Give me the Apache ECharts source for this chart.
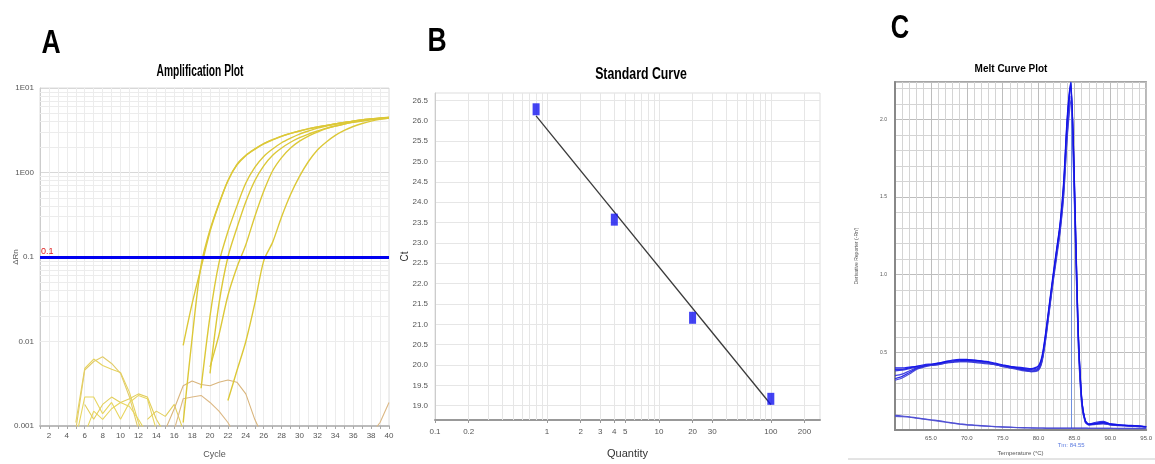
<!DOCTYPE html>
<html><head><meta charset="utf-8">
<script src="https://cdn.jsdelivr.net/npm/echarts@6/dist/echarts.min.js"></script>
<style>html,body{margin:0;padding:0;background:#fff}#c{width:1155px;height:464px}</style>
</head><body><div id="c"></div><script>
// ---------- Panel A: Amplification Plot ----------
const ampYTicks = [0.001, 0.01, 0.1, 1, 10];
const ampYTickLabels = ['0.001', '0.01', '0.1', '1E00', '1E01'];
const ampYMinorGrid = [0.002,0.003,0.004,0.005,0.006,0.007,0.008,0.009,0.02,0.03,0.04,0.05,0.06,0.07,0.08,0.09,0.2,0.3,0.4,0.5,0.6,0.7,0.8,0.9,2,3,4,5,6,7,8,9];
const threshold = 0.1;
// amplification curves: start cycle + values per cycle
const amp1Start = 17, amp1 = [0.009,0.028,0.075,0.2,0.42,0.8,1.25,1.6,1.9,2.2,2.45,2.7,2.9,3.1,3.3,3.45,3.6,3.75,3.9,4.05,4.2,4.3,4.4,4.5];
const amp1bStart = 17, amp1b = [0.0011,0.011,0.08,0.21,0.43,0.8,1.22,1.58,1.88,2.18,2.43,2.68,2.9,3.1,3.28,3.45,3.6,3.75,3.9,4.05,4.18,4.3,4.4,4.48];
const amp2Start = 19, amp2 = [0.0028,0.02,0.085,0.2,0.4,0.75,1.15,1.55,1.9,2.25,2.55,2.85,3.1,3.35,3.55,3.75,3.9,4.05,4.2,4.3,4.4,4.45];
const amp2bStart = 20, amp2b = [0.0042,0.028,0.1,0.22,0.45,0.8,1.2,1.6,1.95,2.28,2.58,2.85,3.1,3.35,3.55,3.75,3.92,4.07,4.2,4.32,4.42];
const amp3Start = 20, amp3 = [0.005,0.012,0.035,0.075,0.14,0.3,0.6,1.05,1.5,1.95,2.35,2.7,3.0,3.3,3.55,3.75,3.95,4.1,4.25,4.35,4.45];
const amp4Start = 22, amp4 = [0.002,0.0045,0.01,0.028,0.09,0.15,0.3,0.55,0.9,1.35,1.85,2.3,2.75,3.15,3.5,3.8,4.05,4.25,4.4];
// background noise curves
const noise1Start = 5, noise1 = [0.0011,0.0048,0.0062,0.0052,0.0047,0.0043,0.0025,0.0011,0.0006];
const noise2Start = 5, noise2 = [0.0009,0.0046,0.0058,0.0066,0.0055,0.0042,0.0022,0.0009];
const noise3Start = 5, noise3 = [0.0007,0.0022,0.0022,0.0014,0.0019,0.0012,0.0019,0.0023,0.0021,0.0009];
const noise4Start = 6, noise4 = [0.0008,0.0015,0.0012,0.0016,0.0019,0.0017,0.0012,0.0008];
const noise5Start = 6, noise5 = [0.0018,0.0012,0.0018,0.0022,0.0019,0.0021,0.0024,0.0022,0.0012,0.0008];
const noise6Start = 13, noise6 = [0.0012,0.0015,0.0013,0.0018,0.0009];
const noise7Start = 15, noise7 = [0.0009,0.0016,0.003,0.0034,0.0031,0.003,0.0033,0.0035,0.0033,0.0024,0.0012,0.0007];
const noise8Start = 16, noise8 = [0.0009,0.0021,0.0022,0.0023,0.0019,0.0015,0.0011,0.0007];
const noise9Start = 38, noise9 = [0.0008,0.0011,0.0019];

// ---------- Panel B: Standard Curve ----------
const stdQuantity = [0.8, 4, 20, 100];
const stdCt = [26.28, 23.57, 21.16, 19.17];
const fitQuantity = [0.8, 100];
const fitCt = [26.12, 19.03];
const stdXTicks = [0.1, 0.2, 1, 2, 3, 4, 5, 10, 20, 30, 100, 200];
const stdXGrid = [0.2,0.3,0.4,0.5,0.6,0.7,0.8,0.9,1,2,3,4,5,6,7,8,9,10,20,30,40,50,60,70,80,90,100,200];
const stdYTicks = [19.0,19.5,20.0,20.5,21.0,21.5,22.0,22.5,23.0,23.5,24.0,24.5,25.0,25.5,26.0,26.5];

// ---------- Panel C: Melt Curve Plot ----------
const meltTemp = [60,61,62,63,64,65,66,67,68,69,70,71,72,73,74,75,76,77,78,79,80,80.5,81,81.5,82,82.5,83,83.5,84,84.5,85,85.5,86,86.5,87,88,89,90,91,92,93,94,95];
const melt1 = [0.39,0.39,0.40,0.41,0.415,0.42,0.425,0.435,0.44,0.445,0.445,0.44,0.44,0.435,0.425,0.415,0.41,0.40,0.395,0.39,0.41,0.47,0.62,0.80,0.98,1.15,1.32,1.58,2.00,2.23,1.55,0.66,0.20,0.06,0.035,0.04,0.045,0.035,0.03,0.03,0.025,0.025,0.02];
const melt2 = [0.38,0.385,0.395,0.405,0.41,0.42,0.43,0.44,0.445,0.45,0.45,0.445,0.44,0.43,0.42,0.41,0.405,0.40,0.39,0.385,0.40,0.46,0.60,0.78,0.96,1.13,1.30,1.55,1.95,2.20,1.62,0.70,0.22,0.065,0.04,0.045,0.05,0.04,0.035,0.03,0.03,0.025,0.022];
const melt3 = [0.35,0.36,0.38,0.40,0.41,0.415,0.42,0.43,0.435,0.44,0.44,0.435,0.43,0.425,0.42,0.41,0.40,0.395,0.385,0.38,0.395,0.45,0.59,0.77,0.95,1.12,1.28,1.52,1.90,2.15,1.50,0.62,0.18,0.055,0.035,0.038,0.042,0.033,0.03,0.028,0.025,0.022,0.02];
const melt4 = [0.33,0.345,0.37,0.395,0.41,0.42,0.425,0.435,0.44,0.445,0.45,0.45,0.445,0.435,0.425,0.415,0.405,0.395,0.385,0.375,0.39,0.45,0.61,0.79,0.97,1.14,1.31,1.56,1.98,2.22,1.58,0.68,0.21,0.06,0.038,0.05,0.055,0.04,0.035,0.03,0.028,0.025,0.022];
const melt5 = [0.32,0.335,0.36,0.39,0.405,0.415,0.42,0.43,0.44,0.44,0.44,0.44,0.435,0.43,0.42,0.41,0.40,0.39,0.38,0.375,0.385,0.44,0.58,0.76,0.94,1.10,1.27,1.50,1.88,2.12,1.45,0.60,0.17,0.05,0.032,0.036,0.04,0.032,0.028,0.026,0.024,0.022,0.02];
const melt6 = [0.40,0.40,0.405,0.41,0.42,0.425,0.43,0.44,0.45,0.455,0.455,0.45,0.445,0.44,0.43,0.42,0.41,0.405,0.40,0.395,0.415,0.48,0.63,0.81,0.99,1.16,1.33,1.60,2.02,2.24,1.60,0.68,0.21,0.06,0.036,0.042,0.048,0.038,0.032,0.03,0.027,0.025,0.021];
const meltLow1 = [0.095,0.09,0.085,0.078,0.072,0.066,0.06,0.053,0.046,0.04,0.035,0.031,0.028,0.025,0.022,0.02,0.018,0.016,0.015,0.014,0.013,0.013,0.012,0.012,0.012,0.012,0.012,0.012,0.013,0.012,0.012,0.012,0.012,0.012,0.011,0.011,0.011,0.01,0.01,0.01,0.01,0.01,0.01];
const meltLow2 = [0.088,0.086,0.082,0.076,0.07,0.064,0.057,0.05,0.044,0.038,0.033,0.03,0.027,0.024,0.021,0.019,0.017,0.015,0.014,0.013,0.012,0.012,0.011,0.011,0.011,0.011,0.011,0.011,0.011,0.011,0.011,0.011,0.011,0.01,0.01,0.01,0.01,0.01,0.009,0.009,0.009,0.009,0.009];
const meltTm = 84.55;
const meltTmLabel = 'Tm: 84.55';

// ---------- build ----------
const fromStart = (s, vals) => vals.map((v, i) => [s + i, v]);
const zip = (xs, ys) => xs.map((x, i) => [x, ys[i]]);
const NARROW = '"Liberation Sans Narrow","Liberation Sans",Arial,sans-serif';
const SANS = '"Liberation Sans",Arial,sans-serif';

const ampColor = '#dcc838';
const series = [];
// A: grid helper series
series.push({type:'line', xAxisIndex:0, yAxisIndex:0, data:[], z:1, silent:true,
  markLine:{silent:true, z:1, symbol:'none', label:{show:false}, animation:false,
    lineStyle:{color:'#ececec', type:'solid', width:1},
    data: ampYMinorGrid.map(v => ({yAxis:v}))}});
const ampCurves = [[amp1Start,amp1],[amp1bStart,amp1b],[amp2Start,amp2],[amp2bStart,amp2b],[amp3Start,amp3],[amp4Start,amp4]];
ampCurves.forEach(([s, v]) => series.push({type:'line', xAxisIndex:0, yAxisIndex:0, data:fromStart(s, v),
  showSymbol:false, smooth:0.3, lineStyle:{color:ampColor, width:1.4}, z:3}));
const noiseCurves = [[noise1Start,noise1,'#e6d35e'],[noise2Start,noise2,'#e2cc6a'],[noise3Start,noise3,'#e8d660'],[noise4Start,noise4,'#e8d660'],
  [noise5Start,noise5,'#e3cf5c'],[noise6Start,noise6,'#e3cf5c'],[noise7Start,noise7,'#d9b57c'],[noise8Start,noise8,'#dcb884'],[noise9Start,noise9,'#dcb884']];
noiseCurves.forEach(([s, v, c]) => series.push({type:'line', xAxisIndex:0, yAxisIndex:0, data:fromStart(s, v),
  showSymbol:false, lineStyle:{color:c, width:1.1}, z:2}));
series.push({type:'line', xAxisIndex:0, yAxisIndex:0, data:[], z:5,
  markLine:{silent:true, z:6, symbol:'none', animation:false,
    lineStyle:{color:'#0000f0', type:'solid', width:3},
    label:{show:true, position:'insideStartTop', formatter:'0.1', color:'#e02020', fontSize:9, fontFamily:SANS, distance:[1,1]},
    data:[{yAxis:threshold}]}});

// B
series.push({type:'line', xAxisIndex:1, yAxisIndex:1, data:[], z:1, silent:true,
  markLine:{silent:true, z:1, symbol:'none', label:{show:false}, animation:false,
    lineStyle:{color:'#e6e6e6', type:'solid', width:1},
    data: stdXGrid.map(v => ({xAxis:v}))}});
series.push({type:'line', xAxisIndex:1, yAxisIndex:1, data:zip(fitQuantity, fitCt), showSymbol:false,
  lineStyle:{color:'#3a3a3a', width:1.3}, z:3});
series.push({type:'scatter', xAxisIndex:1, yAxisIndex:1, data:zip(stdQuantity, stdCt), symbol:'rect', symbolSize:[7,12],
  itemStyle:{color:'#1414f0'}, z:4});

// C
const meltCurves = [[melt1,'#1a1ae6'],[melt2,'#2424e0'],[melt3,'#3030dd'],[melt4,'#1c1ce8'],[melt5,'#3a3ad8'],[melt6,'#1010ea'],[meltLow1,'#3c3cd6'],[meltLow2,'#5050d0']];
meltCurves.forEach(([v, c]) => series.push({type:'line', xAxisIndex:2, yAxisIndex:2, data:zip(meltTemp, v),
  showSymbol:false, smooth:0.25, lineStyle:{color:c, width:1.2, opacity:0.9}, z:3}));
series.push({type:'line', xAxisIndex:2, yAxisIndex:2, data:[], z:2,
  markLine:{silent:true, z:2, symbol:'none', animation:false,
    lineStyle:{color:'#6f8fe0', type:'solid', width:1},
    label:{show:true, position:'start', formatter:meltTmLabel, color:'#5a7ae0', fontSize:6, fontFamily:SANS, distance:12},
    data:[{xAxis:meltTm}]}});

const chart = echarts.init(document.getElementById('c'), null, {renderer:'canvas'});
chart.setOption({
  animation:false,
  backgroundColor:'#ffffff',
  grid:[
    {left:40, top:88, width:349, height:348, show:true, borderColor:'#dddddd', borderWidth:1},
    {left:435, top:93, width:385, height:338, show:true, borderColor:'#dddddd', borderWidth:1},
    {left:895, top:82, width:257, height:348, show:true, borderColor:'#888888', borderWidth:1.5}
  ],
  xAxis:[
    {gridIndex:0, type:'value', min:1, max:40, interval:1, name:'Cycle', nameLocation:'middle', nameGap:24, nameMoveOverlap:false,
      nameTextStyle:{fontSize:9, color:'#555', fontFamily:SANS},
      axisLine:{lineStyle:{color:'#bbbbbb', width:2}}, axisTick:{show:true, length:3, lineStyle:{color:'#aaa'}},
      axisLabel:{fontSize:8, color:'#555', fontFamily:NARROW, margin:6, formatter:v => (v % 2 === 0 ? String(v) : '')},
      splitLine:{show:true, lineStyle:{color:'#ececec'}}},
    {gridIndex:1, type:'log', logBase:10, min:0.1, max:275, name:'Quantity', nameLocation:'middle', nameGap:28, nameMoveOverlap:false,
      nameTextStyle:{fontSize:11, color:'#333', fontFamily:NARROW},
      axisLine:{lineStyle:{color:'#999999', width:2}}, axisTick:{show:true, length:3, customValues:stdXTicks, lineStyle:{color:'#999'}},
      axisLabel:{fontSize:8, color:'#555', fontFamily:NARROW, margin:8, customValues:stdXTicks, formatter:v => String(+v.toPrecision(3))},
      splitLine:{show:false}},
    {gridIndex:2, type:'value', min:60, max:95, interval:5, name:'Temperature (°C)', nameLocation:'middle', nameGap:20, nameMoveOverlap:false,
      nameTextStyle:{fontSize:6, color:'#555', fontFamily:SANS},
      axisLine:{lineStyle:{color:'#888888', width:2}}, axisTick:{show:false},
      axisLabel:{fontSize:6, color:'#555', fontFamily:SANS, margin:5, formatter:v => v.toFixed(1), showMinLabel:false},
      splitLine:{show:true, lineStyle:{color:'#bdbdbd'}},
      minorTick:{show:false, splitNumber:5}, minorSplitLine:{show:true, lineStyle:{color:'#d4d4d4'}}}
  ],
  yAxis:[
    {gridIndex:0, type:'log', logBase:10, min:0.001, max:10, name:'ΔRn', nameLocation:'middle', nameGap:20, nameRotate:90, nameMoveOverlap:false,
      nameTextStyle:{fontSize:8, color:'#555', fontFamily:SANS},
      axisLine:{show:true, lineStyle:{color:'#cccccc', width:1}}, axisTick:{show:false},
      axisLabel:{fontSize:8, color:'#555', fontFamily:NARROW, margin:6, formatter:v => {
        let best = 0; ampYTicks.forEach((t, i) => { if (Math.abs(Math.log10(t) - Math.log10(v)) < Math.abs(Math.log10(ampYTicks[best]) - Math.log10(v))) best = i; });
        return ampYTickLabels[best]; }},
      splitLine:{show:true, lineStyle:{color:'#d8d8d8'}}},
    {gridIndex:1, type:'value', min:18.65, max:26.68, name:'Ct', nameLocation:'middle', nameGap:25, nameRotate:90, nameMoveOverlap:false,
      nameTextStyle:{fontSize:10, color:'#333', fontFamily:NARROW},
      axisLine:{show:true, lineStyle:{color:'#cccccc', width:1}}, axisTick:{show:false, customValues:stdYTicks},
      axisLabel:{fontSize:8, color:'#555', fontFamily:NARROW, margin:7, customValues:stdYTicks, formatter:v => (+v).toFixed(1)},
      splitLine:{show:true, lineStyle:{color:'#e6e6e6'}}},
    {gridIndex:2, type:'value', min:0, max:2.24, interval:0.5, name:"Derivative Reporter (-Rn')", nameLocation:'middle', nameGap:36, nameRotate:90, nameMoveOverlap:false,
      nameTextStyle:{fontSize:5, color:'#555', fontFamily:SANS},
      axisLine:{show:true, lineStyle:{color:'#888888', width:2}}, axisTick:{show:false},
      axisLabel:{fontSize:5, color:'#555', fontFamily:SANS, margin:8, showMinLabel:false, showMaxLabel:false, formatter:v => v.toFixed(1)},
      splitLine:{show:true, lineStyle:{color:'#bdbdbd'}},
      minorTick:{show:false, splitNumber:5}, minorSplitLine:{show:true, lineStyle:{color:'#d4d4d4'}}}
  ],
  graphic:[
    {type:'text', x:51, y:44, scaleX:0.78, style:{text:'A', font:'bold 34px ' + SANS, fill:'#000', align:'center', verticalAlign:'middle'}},
    {type:'text', x:437, y:42, scaleX:0.78, style:{text:'B', font:'bold 34px ' + SANS, fill:'#000', align:'center', verticalAlign:'middle'}},
    {type:'text', x:900, y:29, scaleX:0.75, style:{text:'C', font:'bold 34px ' + SANS, fill:'#000', align:'center', verticalAlign:'middle'}},
    {type:'text', x:200, y:72, scaleX:0.64, style:{text:'Amplification Plot', font:'bold 16px ' + SANS, fill:'#000', align:'center', verticalAlign:'middle'}},
    {type:'text', x:641, y:75, scaleX:0.77, style:{text:'Standard Curve', font:'bold 16px ' + SANS, fill:'#000', align:'center', verticalAlign:'middle'}},
    {type:'text', x:1011, y:69, style:{text:'Melt Curve Plot', font:'bold 10px ' + SANS, fill:'#000', align:'center', verticalAlign:'middle'}},
    {type:'line', shape:{x1:848, y1:459, x2:1155, y2:459}, style:{stroke:'#c8c8c8', lineWidth:1}}
  ],
  series: series
});
</script></body></html>
